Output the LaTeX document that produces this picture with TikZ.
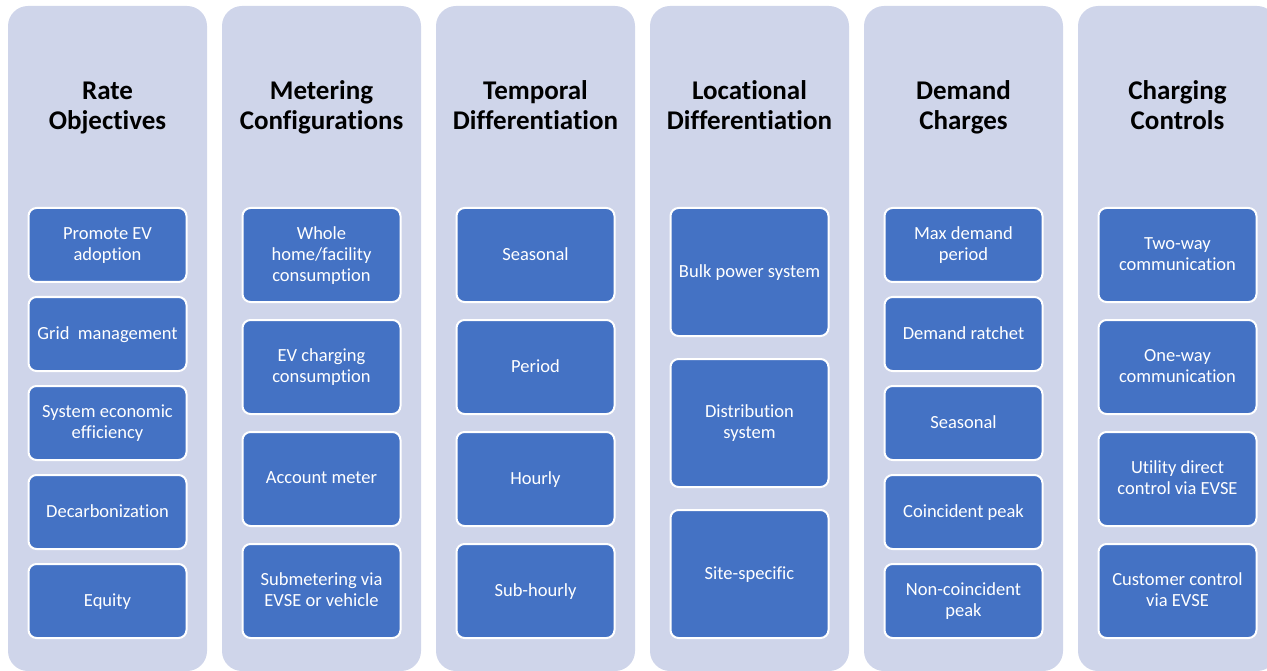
\documentclass[tikz,border=0pt]{standalone}
\usepackage{fontspec}
\setmainfont{Carlito}[Ligatures=NoCommon]
\definecolor{panelbg}{HTML}{CFD5EA}
\definecolor{itemblue}{HTML}{4472C4}
\begin{document}
\begin{tikzpicture}[x=1pt,y=-1pt,
  panel/.style={fill=panelbg, draw=none, rounded corners=20pt},
  heading/.style={align=center, font=\bfseries\fontsize{27}{30}\selectfont, text=black,
    inner sep=0pt, text depth=0pt, anchor=south},
  item/.style={draw=white, line width=2pt, fill=itemblue, rounded corners=8pt,
    minimum width=158pt, align=center, inner sep=2pt, text=white, text depth=2pt,
    font=\fontsize{18.5}{21}\selectfont},
  short/.style={item, minimum height=74pt},
  mid/.style={item, minimum height=94pt},
  tall/.style={item, minimum height=128pt}]
\useasboundingbox (0,0) rectangle (1267,671);
\clip (0,0) rectangle (1267,671);

% background panels
\foreach \i/\xl in {1/8,2/222,3/436,4/650,5/864,6/1078}
  \fill[panel] (\xl,6) rectangle ++(199,665);

% headings (south anchor sits on the second baseline)
\node[heading] (h1) at (107.5,129.5) {Rate\\Objectives};
\node[heading] (h2) at (321.5,129.5) {Metering\\Configurations};
\node[heading] (h3) at (535.5,129.5) {Temporal\\Differentiation};
\node[heading] (h4) at (749.5,129.5) {Locational\\Differentiation};
\node[heading] (h5) at (963.5,129.5) {Demand\\Charges};
\node[heading] (h6) at (1177.5,129.5) {Charging\\Controls};

% Rate objectives
\node[short] (a1) at (107.5,245) {Promote EV\\adoption};
\node[short] (a2) at (107.5,334) {Grid\ \ management};
\node[short] (a3) at (107.5,423) {System economic\\efficiency};
\node[short] (a4) at (107.5,512) {Decarbonization};
\node[short] (a5) at (107.5,601) {Equity};

% Metering configurations
\node[mid] (b1) at (321.5,255) {Whole\\home/facility\\consumption};
\node[mid] (b2) at (321.5,367) {EV charging\\consumption};
\node[mid] (b3) at (321.5,479) {Account meter};
\node[mid] (b4) at (321.5,591) {Submetering via\\EVSE or vehicle};

% Temporal differentiation
\node[mid] (c1) at (535.5,255) {Seasonal};
\node[mid] (c2) at (535.5,367) {Period};
\node[mid] (c3) at (535.5,479) {Hourly};
\node[mid] (c4) at (535.5,591) {Sub-hourly};

% Locational differentiation
\node[tall] (d1) at (749.5,272) {Bulk power system};
\node[tall] (d2) at (749.5,423) {Distribution\\system};
\node[tall] (d3) at (749.5,574) {Site-specific};

% Demand charges
\node[short] (e1) at (963.5,245) {Max demand\\period};
\node[short] (e2) at (963.5,334) {Demand ratchet};
\node[short] (e3) at (963.5,423) {Seasonal};
\node[short] (e4) at (963.5,512) {Coincident peak};
\node[short] (e5) at (963.5,601) {Non-coincident\\peak};

% Charging controls
\node[mid] (f1) at (1177.5,255) {Two-way\\communication};
\node[mid] (f2) at (1177.5,367) {One-way\\communication};
\node[mid] (f3) at (1177.5,479) {Utility direct\\control via EVSE};
\node[mid] (f4) at (1177.5,591) {Customer control\\via EVSE};
\end{tikzpicture}
\end{document}
